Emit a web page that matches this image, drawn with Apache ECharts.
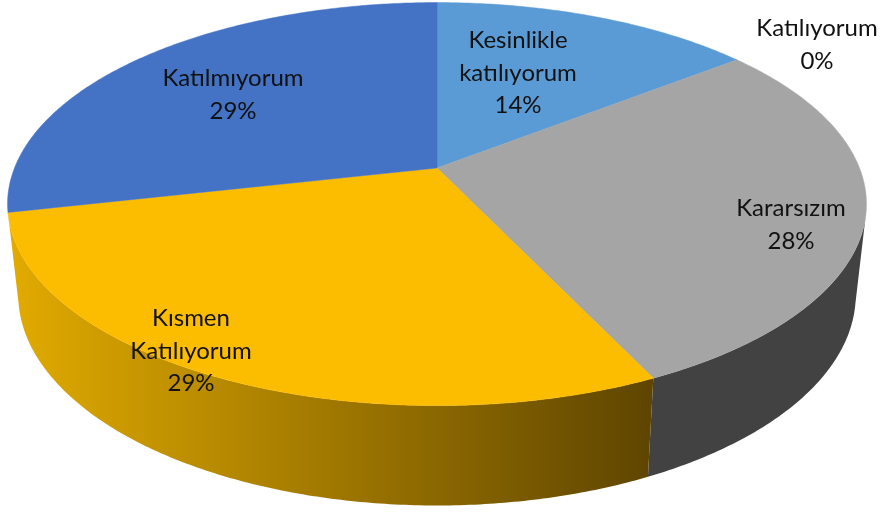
<!DOCTYPE html>
<html>
<head>
<meta charset="utf-8">
<script src="https://cdn.jsdelivr.net/npm/echarts@6/dist/echarts.min.js"></script>
<style>
html, body { margin: 0; padding: 0; background: #fff; }
#chart { width: 881px; height: 514px; }
</style>
</head>
<body>
<div id="chart"></div>
<script>
// chart data
const categories = ['Kesinlikle\nkatılıyorum', 'Katılıyorum', 'Kararsızım', 'Kısmen\nKatılıyorum', 'Katılmıyorum'];
const shares = [14.45, 0, 28.49, 28.55, 28.51];

// slice colours
const faceColors = ['#5B9BD5', '#ED7D31', '#A5A5A5', '#FCBC00', '#4472C4'];
const sideColors = ['#2F5F8F', '#8A4A1D', '#424242', null, '#2B4A80'];

const total = shares.reduce((a, b) => a + b, 0);
const slices = [];
let running = 0;
shares.forEach((value, i) => {
    slices.push([value, running / total * Math.PI * 2, (running + value) / total * Math.PI * 2, i]);
    running += value;
});

// tilted pie: a circle seen in perspective, top rim and bottom rim
const CX = 437;
const TILT = -0.179;
const TOP_RIM = { w: 422.5, b: 168, a: 165 };
const BOTTOM_RIM = { w: 412, b: 257, a: 158 };
// part of the wall that can be seen (angle clockwise from 12 o'clock)
const WALL_FROM = 1.79;
const WALL_TO = 4.49;

function project(angle, r, rim) {
    const u = Math.sin(angle) * r;
    const t = -Math.cos(angle) * r;
    const d = 1 + TILT * t;
    return [CX + rim.w * u / d, (rim.b + rim.a * t) / d];
}

function arcPoints(from, to, rim) {
    const pts = [];
    const steps = Math.max(2, Math.ceil((to - from) / 0.01));
    for (let i = 0; i <= steps; i++) {
        pts.push(project(from + (to - from) * i / steps, 1, rim));
    }
    return pts;
}

function renderWall(params, api) {
    const from = Math.max(api.value(1), WALL_FROM);
    const to = Math.min(api.value(2), WALL_TO);
    if (to <= from) return;
    const i = api.value(3);
    const pts = arcPoints(from, to, TOP_RIM).concat(arcPoints(from, to, BOTTOM_RIM).reverse());
    let fill = sideColors[i];
    if (!fill) {
        // gold wall gets darker to the right
        fill = new echarts.graphic.LinearGradient(0, 0, 1, 0, [
            { offset: 0, color: '#E2AB00' },
            { offset: 1, color: '#5E4500' }
        ]);
    }
    return {
        type: 'polygon',
        shape: { points: pts },
        style: { fill: fill, stroke: null }
    };
}

function renderFace(params, api) {
    const from = api.value(1);
    const to = api.value(2);
    if (to <= from) return;
    const i = api.value(3);
    const pts = [project(0, 0, TOP_RIM)].concat(arcPoints(from, to, TOP_RIM));
    return {
        type: 'polygon',
        shape: { points: pts },
        style: { fill: faceColors[i], stroke: faceColors[i], lineWidth: 0.5 }
    };
}

// label centres picked by hand, same as the original placement
const labelAnchors = [[518, 73], [817, 45], [791, 225], [191, 351], [233, 95]];

function renderLabel(params, api) {
    const i = api.value(3);
    const pct = Math.round(api.value(0) / total * 100);
    return {
        type: 'text',
        x: labelAnchors[i][0],
        y: labelAnchors[i][1],
        style: {
            text: categories[i] + '\n' + pct + '%',
            font: '24px Lato',
            lineHeight: 32.5,
            fill: '#111111',
            align: 'center',
            verticalAlign: 'middle'
        }
    };
}

const chart = echarts.init(document.getElementById('chart'));
const option = {
    animation: false,
    series: [
        { type: 'custom', coordinateSystem: 'none', renderItem: renderWall, data: slices, z: 1, silent: true },
        { type: 'custom', coordinateSystem: 'none', renderItem: renderFace, data: slices, z: 2, silent: true },
        { type: 'custom', coordinateSystem: 'none', renderItem: renderLabel, data: slices, z: 3, silent: true }
    ]
};
chart.setOption(option);
</script>
</body>
</html>
